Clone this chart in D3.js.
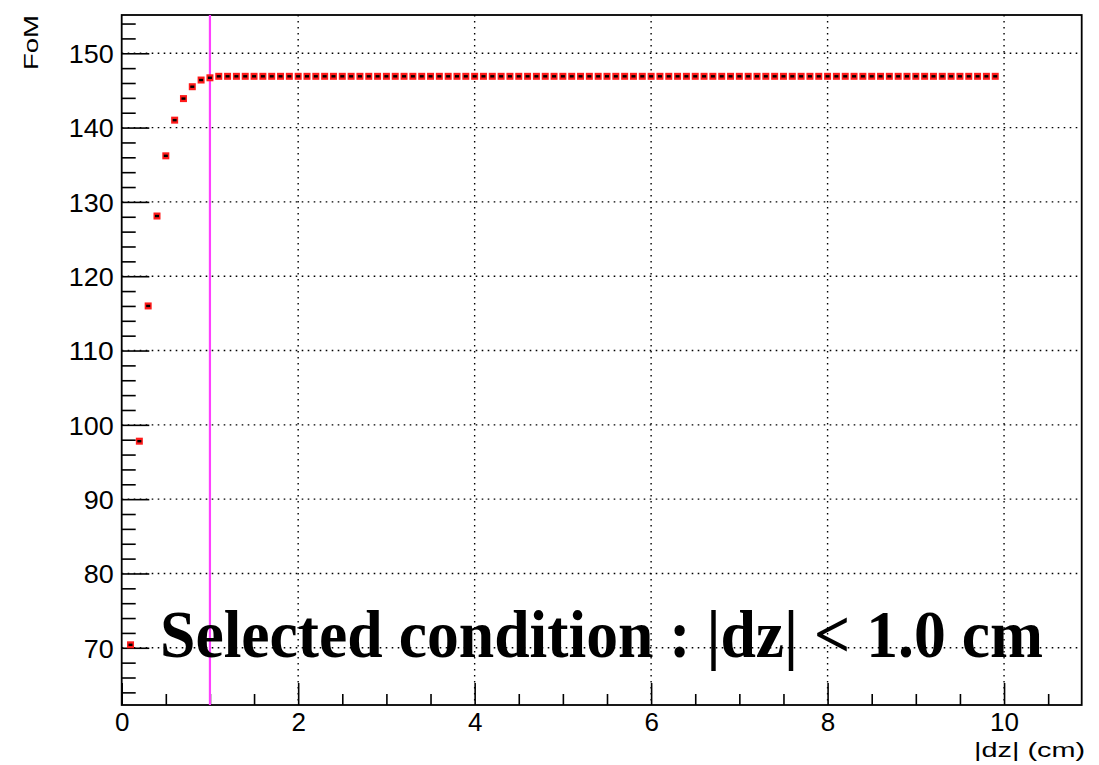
<!DOCTYPE html>
<html>
<head>
<meta charset="utf-8">
<script src="https://cdn.jsdelivr.net/npm/d3@7"></script>
<style>
  html, body { margin: 0; padding: 0; background: #fff; }
  svg { display: block; }
</style>
</head>
<body>
<svg id="chart" width="1099" height="765"></svg>
<script>
// |dz| cut value (cm)
const dzCut = [
  0.1, 0.2, 0.3, 0.4, 0.5, 0.6, 0.7, 0.8, 0.9, 1.0,
  1.1, 1.2, 1.3, 1.4, 1.5, 1.6, 1.7, 1.8, 1.9, 2.0,
  2.1, 2.2, 2.3, 2.4, 2.5, 2.6, 2.7, 2.8, 2.9, 3.0,
  3.1, 3.2, 3.3, 3.4, 3.5, 3.6, 3.7, 3.8, 3.9, 4.0,
  4.1, 4.2, 4.3, 4.4, 4.5, 4.6, 4.7, 4.8, 4.9, 5.0,
  5.1, 5.2, 5.3, 5.4, 5.5, 5.6, 5.7, 5.8, 5.9, 6.0,
  6.1, 6.2, 6.3, 6.4, 6.5, 6.6, 6.7, 6.8, 6.9, 7.0,
  7.1, 7.2, 7.3, 7.4, 7.5, 7.6, 7.7, 7.8, 7.9, 8.0,
  8.1, 8.2, 8.3, 8.4, 8.5, 8.6, 8.7, 8.8, 8.9, 9.0,
  9.1, 9.2, 9.3, 9.4, 9.5, 9.6, 9.7, 9.8, 9.9
];
// figure of merit at each cut
const fom = [
  70.4, 97.8, 116.0, 128.1, 136.2, 141.0, 143.9, 145.5, 146.4, 146.7,
  146.9, 146.9, 146.9, 146.9, 146.9, 146.9, 146.9, 146.9, 146.9, 146.9,
  146.9, 146.9, 146.9, 146.9, 146.9, 146.9, 146.9, 146.9, 146.9, 146.9,
  146.9, 146.9, 146.9, 146.9, 146.9, 146.9, 146.9, 146.9, 146.9, 146.9,
  146.9, 146.9, 146.9, 146.9, 146.9, 146.9, 146.9, 146.9, 146.9, 146.9,
  146.9, 146.9, 146.9, 146.9, 146.9, 146.9, 146.9, 146.9, 146.9, 146.9,
  146.9, 146.9, 146.9, 146.9, 146.9, 146.9, 146.9, 146.9, 146.9, 146.9,
  146.9, 146.9, 146.9, 146.9, 146.9, 146.9, 146.9, 146.9, 146.9, 146.9,
  146.9, 146.9, 146.9, 146.9, 146.9, 146.9, 146.9, 146.9, 146.9, 146.9,
  146.9, 146.9, 146.9, 146.9, 146.9, 146.9, 146.9, 146.9, 146.9
];
const xMajorTicks = [0, 2, 4, 6, 8, 10];
const xMinorTicks = [0.5, 1, 1.5, 2.5, 3, 3.5, 4.5, 5, 5.5, 6.5, 7, 7.5, 8.5, 9, 9.5, 10.5];
const yMajorTicks = [70, 80, 90, 100, 110, 120, 130, 140, 150];
const yMinorTicks = [64, 66, 68, 72, 74, 76, 78, 82, 84, 86, 88, 92, 94, 96, 98,
  102, 104, 106, 108, 112, 114, 116, 118, 122, 124, 126, 128, 132, 134, 136, 138,
  142, 144, 146, 148, 152, 154];
const selectedCut = 1.0;
const xDomain = [0, 10.88];
const yDomain = [62.3, 155.15];

const frame = { left: 121.7, right: 1081.7, top: 15, bottom: 705 };
const svg = d3.select("#chart");

const x = d3.scaleLinear().domain(xDomain).range([frame.left, frame.right]);
const y = d3.scaleLinear().domain(yDomain).range([frame.bottom, frame.top]);

const sans = "'Liberation Sans', Arial, Helvetica, sans-serif";

// dotted grid at the major ticks
const grid = svg.append("g")
  .attr("stroke", "#000").attr("stroke-width", 1.4)
  .attr("stroke-dasharray", "1.6,4.4");
grid.selectAll("line.gx").data(xMajorTicks.filter(d => d > 0))
  .join("line")
  .attr("x1", d => x(d)).attr("x2", d => x(d))
  .attr("y1", frame.top).attr("y2", frame.bottom);
grid.selectAll("line.gy").data(yMajorTicks)
  .join("line").attr("class", "gy")
  .attr("x1", frame.left).attr("x2", frame.right)
  .attr("y1", d => y(d)).attr("y2", d => y(d));

// x axis (ticks point up into the frame)
const xAxisMajor = d3.axisBottom(x).tickValues(xMajorTicks)
  .tickSize(-22).tickPadding(30).tickFormat(d3.format("d"));
const gxMaj = svg.append("g").attr("transform", `translate(0,${frame.bottom})`).call(xAxisMajor);
gxMaj.select(".domain").remove();
gxMaj.selectAll(".tick line").attr("stroke", "#000").attr("stroke-width", 1.6);
gxMaj.selectAll(".tick text").attr("font-family", sans).attr("font-size", 26)
  .attr("fill", "#000").attr("dy", 0).attr("y", 26);

const xAxisMinor = d3.axisBottom(x).tickValues(xMinorTicks).tickSize(-11).tickFormat("");
const gxMin = svg.append("g").attr("transform", `translate(0,${frame.bottom})`).call(xAxisMinor);
gxMin.select(".domain").remove();
gxMin.selectAll(".tick line").attr("stroke", "#000").attr("stroke-width", 1.6);

// y axis (ticks point right into the frame)
const yAxisMajor = d3.axisLeft(y).tickValues(yMajorTicks)
  .tickSize(-27.6).tickPadding(0).tickFormat(d3.format("d"));
const gyMaj = svg.append("g").attr("transform", `translate(${frame.left},0)`).call(yAxisMajor);
gyMaj.select(".domain").remove();
gyMaj.selectAll(".tick line").attr("stroke", "#000").attr("stroke-width", 1.6);
gyMaj.selectAll(".tick text").attr("font-family", sans).attr("font-size", 26)
  .attr("fill", "#000").attr("x", -8).attr("dy", "0.36em")
  .attr("textLength", d => String(d).length * 15).attr("lengthAdjust", "spacingAndGlyphs");

const yAxisMinor = d3.axisLeft(y).tickValues(yMinorTicks).tickSize(-14).tickFormat("");
const gyMin = svg.append("g").attr("transform", `translate(${frame.left},0)`).call(yAxisMinor);
gyMin.select(".domain").remove();
gyMin.selectAll(".tick line").attr("stroke", "#000").attr("stroke-width", 1.6);

// frame
svg.append("rect")
  .attr("x", frame.left).attr("y", frame.top)
  .attr("width", frame.right - frame.left).attr("height", frame.bottom - frame.top)
  .attr("fill", "none").attr("stroke", "#000").attr("stroke-width", 1.8);

// cut line
svg.append("line")
  .attr("x1", x(selectedCut)).attr("x2", x(selectedCut))
  .attr("y1", frame.top).attr("y2", frame.bottom)
  .attr("stroke", "#ff40ff").attr("stroke-width", 2.2);

// points
const pts = dzCut.map((d, i) => ({ x: d, y: fom[i] }));
const markers = svg.append("g");
markers.selectAll("rect.outer").data(pts).join("rect").attr("class", "outer")
  .attr("x", d => x(d.x) - 3.5).attr("y", d => y(d.y) - 3.5)
  .attr("width", 7).attr("height", 7).attr("fill", "#ff1a1a");
markers.selectAll("rect.inner").data(pts).join("rect").attr("class", "inner")
  .attr("x", d => x(d.x) - 2).attr("y", d => y(d.y) - 1.2)
  .attr("width", 4).attr("height", 2.4).attr("fill", "#000");

// axis titles
svg.append("text")
  .attr("transform", `translate(37.5,${frame.top}) rotate(-90)`)
  .attr("text-anchor", "end")
  .attr("font-family", sans).attr("font-size", 21)
  .attr("textLength", 55).attr("lengthAdjust", "spacingAndGlyphs")
  .text("FoM");

svg.append("text")
  .attr("x", 1085).attr("y", 757)
  .attr("text-anchor", "end")
  .attr("font-family", sans).attr("font-size", 21)
  .attr("textLength", 111).attr("lengthAdjust", "spacingAndGlyphs")
  .text("|dz| (cm)");

// annotation
svg.append("text")
  .attr("x", 160).attr("y", 657)
  .attr("font-family", "'Liberation Serif', 'Times New Roman', serif")
  .attr("font-weight", "bold").attr("font-size", 67)
  .attr("textLength", 883).attr("lengthAdjust", "spacingAndGlyphs")
  .text("Selected condition : |dz| < " + selectedCut.toFixed(1) + " cm");
</script>
</body>
</html>
